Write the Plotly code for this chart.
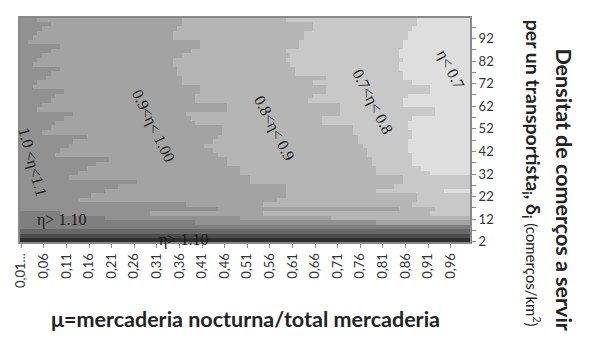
import plotly.graph_objects as go

# Category axes of the surface: share of night freight (x) and shop density (y)
mu_values = [round(0.01 * k, 2) for k in range(1, 101)]
density_values = list(range(2, 102))

x_tick_vals = [0.01, 0.06, 0.11, 0.16, 0.21, 0.26, 0.31, 0.36, 0.41, 0.46,
               0.51, 0.56, 0.61, 0.66, 0.71, 0.76, 0.81, 0.86, 0.91, 0.96]
x_tick_text = ["0,01...", "0,06", "0,11", "0,16", "0,21", "0,26", "0,31", "0,36",
               "0,41", "0,46", "0,51", "0,56", "0,61", "0,66", "0,71", "0,76",
               "0,81", "0,86", "0,91", "0,96"]
y_tick_vals = [2, 12, 22, 32, 42, 52, 62, 72, 82, 92]
y_tick_text = ["2", "12", "22", "32", "42", "52", "62", "72", "82", "92"]
y_minor_vals = [7, 17, 27, 37, 47, 57, 67, 77, 87, 97]

# Efficiency bands (darkest = highest eta)
band_colors = ["#2f2f2f", "#4c4c4c", "#686868", "#7f7f7f", "#919191",
               "#a3a3a3", "#b5b5b5", "#c8c8c8", "#dedede"]

# Per pair of density rows (2-3, 4-5, ..., 100-101):
# darkest band at mu=0.01 and the mu at which each lighter band starts (1.01 = none)
floor_band = [0, 1, 2, 3, 3, 3, 3] + [4] * 43
edge_4 = [1.01, 1.01, 1.01, 1.01, 0.40, 0.20, 0.10] + [0.0] * 43
edge_5 = [1.01, 1.01, 1.01, 1.01, 0.80, 0.50, 0.30, 0.45, 0.38, 0.14,
          0.17, 0.20, 0.23, 0.27, 0.12, 0.14, 0.16, 0.18, 0.21, 0.09,
          0.10, 0.12, 0.13, 0.16, 0.06, 0.08, 0.09, 0.11, 0.13, 0.05,
          0.06, 0.08, 0.09, 0.11, 0.04, 0.05, 0.07, 0.08, 0.10, 0.04,
          0.05, 0.06, 0.08, 0.10, 0.03, 0.04, 0.05, 0.06, 0.08, 0.05]
edge_6 = [1.01, 1.01, 1.01, 1.01, 1.01, 0.70, 0.55, 0.85, 0.55, 0.58,
          0.60, 0.60, 0.60, 0.52, 0.52, 0.50, 0.50, 0.47, 0.47, 0.45,
          0.44, 0.42, 0.44, 0.45, 0.46, 0.46, 0.40, 0.39, 0.38, 0.47,
          0.47, 0.40, 0.40, 0.41, 0.41, 0.37, 0.37, 0.36, 0.36, 0.35,
          0.35, 0.37, 0.39, 0.41, 0.41, 0.35, 0.35, 0.36, 0.37, 0.37]
edge_7 = [1.01, 1.01, 1.01, 1.01, 1.01, 1.01, 0.92, 0.93, 0.88, 0.89,
          0.89, 0.80, 0.84, 0.86, 0.86, 0.80, 0.80, 0.79, 0.79, 0.78,
          0.78, 0.77, 0.76, 0.76, 0.75, 0.75, 0.68, 0.68, 0.72, 0.72,
          0.72, 0.65, 0.66, 0.69, 0.69, 0.66, 0.69, 0.62, 0.62, 0.61,
          0.60, 0.61, 0.60, 0.63, 0.63, 0.64, 0.64, 0.66, 0.66, 0.60]
edge_8 = [1.01, 1.01, 1.01, 1.01, 1.01, 1.01, 1.01, 1.01, 1.01, 1.01,
          1.01, 0.95, 1.01, 1.01, 1.01, 0.92, 0.90, 0.88, 0.88, 0.88,
          0.87, 0.87, 0.87, 0.88, 0.88, 0.87, 0.87, 0.88, 0.93, 0.93,
          0.86, 0.86, 0.87, 0.92, 0.92, 0.88, 0.86, 0.86, 0.85, 0.85,
          0.86, 0.85, 0.85, 0.86, 0.86, 0.87, 0.87, 0.88, 0.89, 0.89]

band_labels = ["1.0 <η<1.1", "η> 1.10", "η> 1.10", "0.9<η< 1.00",
               "0.8<η< 0.9", "0.7<η< 0.8", "η< 0.7"]
label_mu = [0.034, 0.10, 0.368, 0.302, 0.569, 0.787, 0.959]
label_density = [37.3, 11.7, 2.8, 53.3, 52.4, 63.9, 78.5]
label_angle = [75, 0, 0, 64, 63, 63, 63]

# Band index for every cell of the surface
edges = [edge_4, edge_5, edge_6, edge_7, edge_8]
z = []
for j, _ in enumerate(density_values):
    r = j // 2
    row = []
    for mu in mu_values:
        level = floor_band[r]
        for k, e in enumerate(edges):
            if mu >= e[r] - 1e-9:
                level = max(level, 4 + k)
        row.append(level)
    z.append(row)

n = len(band_colors)
colorscale = []
for k, c in enumerate(band_colors):
    colorscale.append([k / n, c])
    colorscale.append([(k + 1) / n, c])

fig = go.Figure(go.Heatmap(
    x=mu_values, y=density_values, z=z,
    colorscale=colorscale, zmin=-0.5, zmax=n - 0.5,
    showscale=False, hoverinfo="skip",
))

for text, mx, my, ang in zip(band_labels, label_mu, label_density, label_angle):
    fig.add_annotation(x=mx, y=my, xref="x", yref="y", text=text, showarrow=False,
                       textangle=ang, xanchor="center", yanchor="middle",
                       font=dict(family="Liberation Serif", size=16, color="#1a1a1a"))

L, R, T, B = 17, 131, 17, 108
W, H = 602, 351
pw, ph = W - L - R, H - T - B

def px_x(px):
    return (px - L) / pw

def px_y(py):
    return (H - B - py) / ph

fig.add_annotation(xref="paper", yref="paper", x=px_x(245), y=px_y(319),
                   xanchor="center", yanchor="middle",
                   text="μ=mercaderia nocturna/total mercaderia", showarrow=False,
                   font=dict(family="Lato", size=21.5, color="#222", weight=700))
fig.add_annotation(xref="paper", yref="paper", x=px_x(564), y=px_y(189),
                   xanchor="center", yanchor="middle",
                   text="Densitat de comerços a servir", showarrow=False, textangle=90,
                   font=dict(family="Lato", size=21.5, color="#222", weight=700))
fig.add_annotation(xref="paper", yref="paper", x=px_x(533), y=px_y(18),
                   xanchor="center", yanchor="top",
                   text="per un transportista<sub>i</sub>, δ<sub>i</sub> "
                        "<span style='font-size:15px;font-weight:400'>(comerços/km<sup>2</sup>)</span>",
                   showarrow=False, textangle=90,
                   font=dict(family="Lato", size=19.5, color="#222", weight=700))

fig.add_shape(type="rect", xref="paper", yref="paper", x0=0, y0=0, x1=1, y1=1,
              line=dict(color="#8a8a8a", width=2), layer="above")

fig.update_xaxes(range=[0.005, 1.005], tickmode="array", tickvals=x_tick_vals,
                 ticktext=x_tick_text, tickangle=-90, ticks="outside", ticklen=4,
                 tickcolor="#8a8a8a", showgrid=False, zeroline=False,
                 tickfont=dict(family="Lato", size=13, color="#333"))
fig.update_yaxes(range=[1.5, 101.5], side="right", tickmode="array",
                 tickvals=y_tick_vals, ticktext=y_tick_text, ticks="outside", ticklen=4,
                 tickcolor="#8a8a8a", showgrid=False, zeroline=False,
                 minor=dict(tickmode="array", tickvals=y_minor_vals, ticks="outside",
                            ticklen=4, tickcolor="#8a8a8a", showgrid=False),
                 tickfont=dict(family="Lato", size=13, color="#333"))

fig.update_layout(width=W, height=H, margin=dict(l=L, r=R, t=T, b=B),
                  paper_bgcolor="white", plot_bgcolor="white", showlegend=False)

fig.write_html("out.html")
